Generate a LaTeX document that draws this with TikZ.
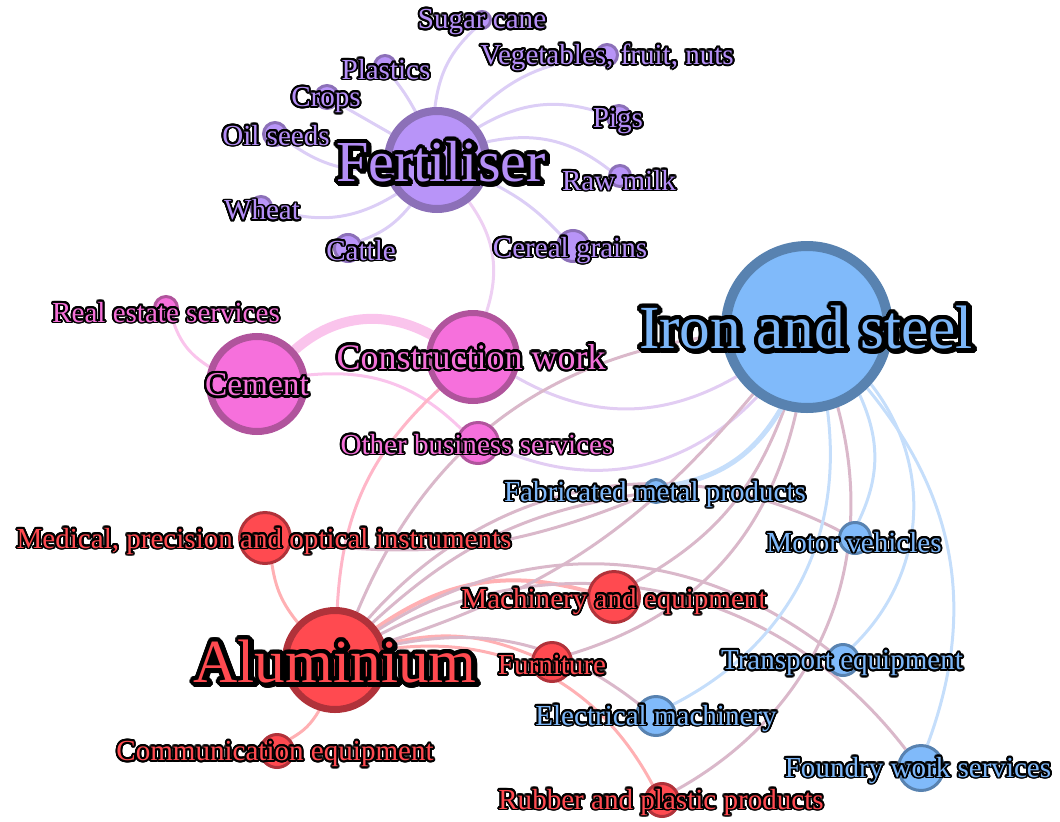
\documentclass[tikz,border=0pt]{standalone}
\usepackage{fontspec}
\setmainfont{Liberation Serif}
\usepackage{contour}
\contournumber{24}
\definecolor{purF}{HTML}{B894F8}
\definecolor{purD}{HTML}{8C70B8}
\definecolor{purT}{HTML}{B48EF6}
\definecolor{pinkF}{HTML}{F670DC}
\definecolor{pinkD}{HTML}{B0549C}
\definecolor{pinkT}{HTML}{F470D8}
\definecolor{blueF}{HTML}{80BAFA}
\definecolor{blueD}{HTML}{5882B0}
\definecolor{blueT}{HTML}{7CB6F8}
\definecolor{redF}{HTML}{FF4A50}
\definecolor{redD}{HTML}{B0323A}
\definecolor{redT}{HTML}{FF4A50}
\definecolor{ePur}{HTML}{DCCEF6}
\definecolor{eFC}{HTML}{EED0F3}
\definecolor{ePink}{HTML}{FAC4EC}
\definecolor{ePR}{HTML}{FFB6C8}
\definecolor{eRed}{HTML}{FFB0B3}
\definecolor{eMauve}{HTML}{DAB8CA}
\definecolor{eLav}{HTML}{E2CDF3}
\definecolor{eBlue}{HTML}{C5DEFB}
\pgfdeclarelayer{bg}\pgfdeclarelayer{fg}\pgfsetlayers{bg,main,fg}
\newcommand\lbl[3]{{\contourlength{#2}\color{#1}\contour{black}{#3}}}
\newcommand\ptxt[1]{\lbl{purT}{1.4pt}{#1}}
\newcommand\ktxt[1]{\lbl{pinkT}{1.4pt}{#1}}
\newcommand\btxt[1]{\lbl{blueT}{1.4pt}{#1}}
\newcommand\rtxt[1]{\lbl{redT}{1.4pt}{#1}}
\begin{document}
\begin{tikzpicture}[x=0.75pt,y=-0.75pt,
  nd/.style={circle, inner sep=0pt, line width=2.25pt},
  rad/.style={minimum size={(2*#1-3)*0.75pt}},
  pn/.style={nd, fill=purF, draw=purD},
  kn/.style={nd, fill=pinkF, draw=pinkD},
  bn/.style={nd, fill=blueF, draw=blueD},
  rn/.style={nd, fill=redF, draw=redD},
  sl/.style={inner sep=0pt, font=\fontsize{21.8}{23}\selectfont},
  ml/.style={inner sep=0pt, font=\fontsize{27}{29}\selectfont},
  bl/.style={inner sep=0pt, font=\fontsize{46}{48}\selectfont},
  fl/.style={inner sep=0pt, font=\fontsize{43.5}{46}\selectfont},
  cl/.style={inner sep=0pt, font=\fontsize{25}{27}\selectfont},
  ed/.style={line width=2.25pt}]
\useasboundingbox (0,0) rectangle (1060,821);
% ---- circles: purple
\node[pn, rad=10] (sugar) at (482,20) {};
\node[pn, rad=12] (veg) at (607,55) {};
\node[pn, rad=12] (plast) at (385,66) {};
\node[pn, rad=13] (crops) at (327,97) {};
\node[pn, rad=13] (oil) at (275,134) {};
\node[pn, rad=13] (pigs) at (619,117) {};
\node[pn, rad=12] (rawmilk) at (620,176) {};
\node[pn, rad=12] (wheat) at (261,207) {};
\node[pn, rad=15] (cattle) at (348,248) {};
\node[pn, rad=17] (cereal) at (573,246) {};
\node[pn, line width=6pt, minimum size=73.5pt] (fert) at (437,160) {};
% pink
\node[kn, line width=4.5pt, minimum size=66pt] (constr) at (473,357) {};
\node[kn, line width=5.25pt, minimum size=71.25pt] (cement) at (257,384) {};
\node[kn, rad=13] (realest) at (166,308) {};
\node[kn, rad=22] (otherbus) at (478,443) {};
% blue
\node[bn, line width=7.5pt, minimum size=121.5pt] (iron) at (807,327) {};
\node[bn, rad=13] (fab) at (656,491) {};
\node[bn, rad=17] (motor) at (855,538) {};
\node[bn, rad=17] (transport) at (843,660) {};
\node[bn, rad=21] (elec) at (656,716) {};
\node[bn, rad=24] (foundry) at (921,768) {};
% red
\node[rn, line width=5.25pt, minimum size=74.25pt] (alum) at (335,660) {};
\node[rn, rad=27] (medical) at (265,538) {};
\node[rn, rad=18] (comm) at (277,751) {};
\node[rn, rad=27] (mach) at (614,597) {};
\node[rn, rad=21] (furn) at (552,662) {};
\node[rn, rad=18] (rubber) at (662,800) {};
% ---- edges
\begin{pgfonlayer}{bg}
\draw[ed, ePur] (fert) to[bend left=20] (sugar);
\draw[ed, ePur] (fert) to[bend left=20] (veg);
\draw[ed, ePur] (fert) to[bend right=5] (plast);
\draw[ed, ePur] (fert) -- (crops);
\draw[ed, ePur] (fert) to[bend left=20] (oil);
\draw[ed, ePur] (fert) to[bend left=25] (wheat);
\draw[ed, ePur] (fert) to[bend left=15] (cattle);
\draw[ed, ePur] (fert) to[bend left=25] (pigs);
\draw[ed, ePur] (fert) to[bend left=25] (rawmilk);
\draw[ed, ePur] (fert) to[bend left=10] (cereal);
\draw[ed, eFC] (fert) to[bend left=27] (constr);
\draw[line width=7.5pt, ePink] (cement) to[bend left=35] (constr);
\draw[ed, ePink] (cement) to[bend left=20] (realest);
\draw[ed, ePink] (cement) to[bend left=25] (otherbus);
\draw[ed, ePR] (constr) to[bend right=22] (alum);
\draw[ed, eLav] (constr) to[bend right=30] (iron);
\draw[ed, eLav] (otherbus) to[bend right=35] (iron);
\draw[ed, eRed] (alum) to[bend left=15] (medical);
\draw[ed, eRed] (alum) to[bend left=15] (comm);
\draw[line width=3pt, eRed] (alum) to[bend left=25] (mach);
\draw[ed, eRed] (alum) to[bend left=18] (furn);
\draw[ed, eRed] (alum) to[bend left=35] (rubber);
\draw[ed, eMauve] (alum) to[bend left=30] (iron);
\draw[ed, eMauve] (iron) to[bend left=16] (alum);
\draw[ed, eMauve] (alum) to[bend left=17] (fab);
\draw[ed, eMauve] (medical) to[bend right=15] (fab);
\draw[ed, eMauve] (alum) to[bend left=38] (motor);
\draw[ed, eMauve] (alum) to[bend left=35] (transport);
\draw[ed, eMauve] (alum) to[bend left=40] (foundry);
\draw[ed, eMauve] (alum) to[bend left=25] (elec);
\draw[ed, eMauve] (iron) to[bend left=20] (mach);
\draw[ed, eMauve] (iron) to[bend left=30] (furn);
\draw[ed, eMauve] (iron) to[bend left=38] (rubber);
\draw[line width=3.75pt, eBlue] (iron) to[bend left=25] (fab);
\draw[ed, eBlue] (iron) to[bend left=35] (elec);
\draw[ed, eBlue] (iron) to[bend left=25] (motor);
\draw[ed, eBlue] (iron) to[bend left=42] (transport);
\draw[ed, eBlue] (iron) to[bend left=30] (foundry);
\end{pgfonlayer}
% ---- labels
\begin{pgfonlayer}{fg}
\node[sl] (t-sugar) at (482,23) {\ptxt{Sugar cane}};
\node[sl] (t-veg) at (607,58) {\ptxt{Vegetables, fruit, nuts}};
\node[sl] (t-plast) at (386,70) {\ptxt{Plastics}};
\node[sl] (t-crops) at (326,101) {\ptxt{Crops}};
\node[sl] (t-oil) at (276,136) {\ptxt{Oil seeds}};
\node[sl] (t-pigs) at (618,122) {\ptxt{Pigs}};
\node[sl] (t-rawmilk) at (619,181) {\ptxt{Raw milk}};
\node[sl] (t-wheat) at (262,211) {\ptxt{Wheat}};
\node[sl] (t-cattle) at (361,251) {\ptxt{Cattle}};
\node[sl] (t-cereal) at (570,251) {\ptxt{Cereal grains}};
\node[fl] (t-fert-s) at (443,165) {\lbl{black}{2.6pt}{Fertiliser}};
\node[fl] (t-fert) at (441,163) {\lbl{purT}{2.6pt}{Fertiliser}};
\node[sl] (t-realest) at (166,313) {\ktxt{Real estate services}};
\node[cl] (t-cement) at (257,386) {\lbl{pinkT}{1.8pt}{Cement}};
\node[ml] (t-constr) at (471,358) {\lbl{pinkT}{1.8pt}{Construction work}};
\node[sl] (t-otherbus) at (477,445) {\ktxt{Other business services}};
\node[bl] (t-iron-s) at (808,331) {\lbl{black}{2.8pt}{Iron and steel}};
\node[bl] (t-iron) at (806,329) {\lbl{blueT}{2.8pt}{Iron and steel}};
\node[sl] (t-fab) at (655,495) {\btxt{Fabricated metal products}};
\node[sl] (t-motor) at (854,543) {\btxt{Motor vehicles}};
\node[sl] (t-transport) at (842,664) {\btxt{Transport equipment}};
\node[sl] (t-elec) at (656,719) {\btxt{Electrical machinery}};
\node[sl] (t-foundry) at (918,771) {\btxt{Foundry work services}};
\node[sl] (t-medical) at (264,542) {\rtxt{Medical, precision and optical instruments}};
\node[sl] (t-mach) at (614,602) {\rtxt{Machinery and equipment}};
\node[bl] (t-alum-s) at (337,665) {\lbl{black}{2.8pt}{Aluminium}};
\node[bl] (t-alum) at (335,663) {\lbl{redT}{2.8pt}{Aluminium}};
\node[sl] (t-furn) at (552,666) {\rtxt{Furniture}};
\node[sl] (t-comm) at (275,755) {\rtxt{Communication equipment}};
\node[sl] (t-rubber) at (661,803) {\rtxt{Rubber and plastic products}};
\end{pgfonlayer}
\end{tikzpicture}
\end{document}
